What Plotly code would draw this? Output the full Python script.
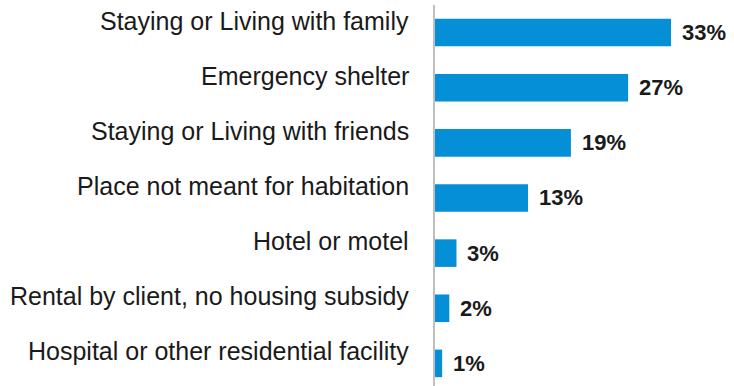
import plotly.graph_objects as go

# Prior living situation shares (percent)
categories = [
    "Staying or Living with family",
    "Emergency shelter",
    "Staying or Living with friends",
    "Place not meant for habitation",
    "Hotel or motel",
    "Rental by client, no housing subsidy",
    "Hospital or other residential facility",
]
values = [33, 27, 19, 13, 3, 2, 1]
value_labels = [f"{v}%" for v in values]

BAR_COLOR = "#058FD6"
TEXT_COLOR = "#1a1a1a"
FONT = "Liberation Sans, Arial, sans-serif"

fig = go.Figure(
    go.Bar(
        x=values,
        y=categories,
        orientation="h",
        marker=dict(color=BAR_COLOR, line=dict(width=0)),
        width=0.5,
        hoverinfo="skip",
    )
)

annotations = []
for cat, v, lab in zip(categories, values, value_labels):
    # category name, right aligned left of the axis, sitting above the bar centre
    annotations.append(dict(
        x=0, xref="paper", y=cat, yref="y",
        text=cat, showarrow=False,
        xanchor="right", yanchor="middle",
        xshift=-24, yshift=12,
        font=dict(family=FONT, size=25, color=TEXT_COLOR),
    ))
    # value label just past the bar end
    annotations.append(dict(
        x=v, xref="x", y=cat, yref="y",
        text=f"<b>{lab}</b>", showarrow=False,
        xanchor="left", yanchor="middle",
        xshift=9,
        font=dict(family=FONT, size=22, color=TEXT_COLOR),
    ))

fig.update_layout(
    width=734, height=386,
    margin=dict(l=435, r=0, t=5, b=0),
    paper_bgcolor="white", plot_bgcolor="white",
    showlegend=False,
    annotations=annotations,
    xaxis=dict(range=[0, 41.8], visible=False, fixedrange=True),
    yaxis=dict(
        type="category",
        categoryorder="array", categoryarray=categories,
        range=[6.41, -0.5],
        showticklabels=False, ticks="",
        showgrid=False, zeroline=False,
        showline=True, linecolor="#BFBFBF", linewidth=2,
        fixedrange=True,
    ),
)

fig.write_html("out.html")
